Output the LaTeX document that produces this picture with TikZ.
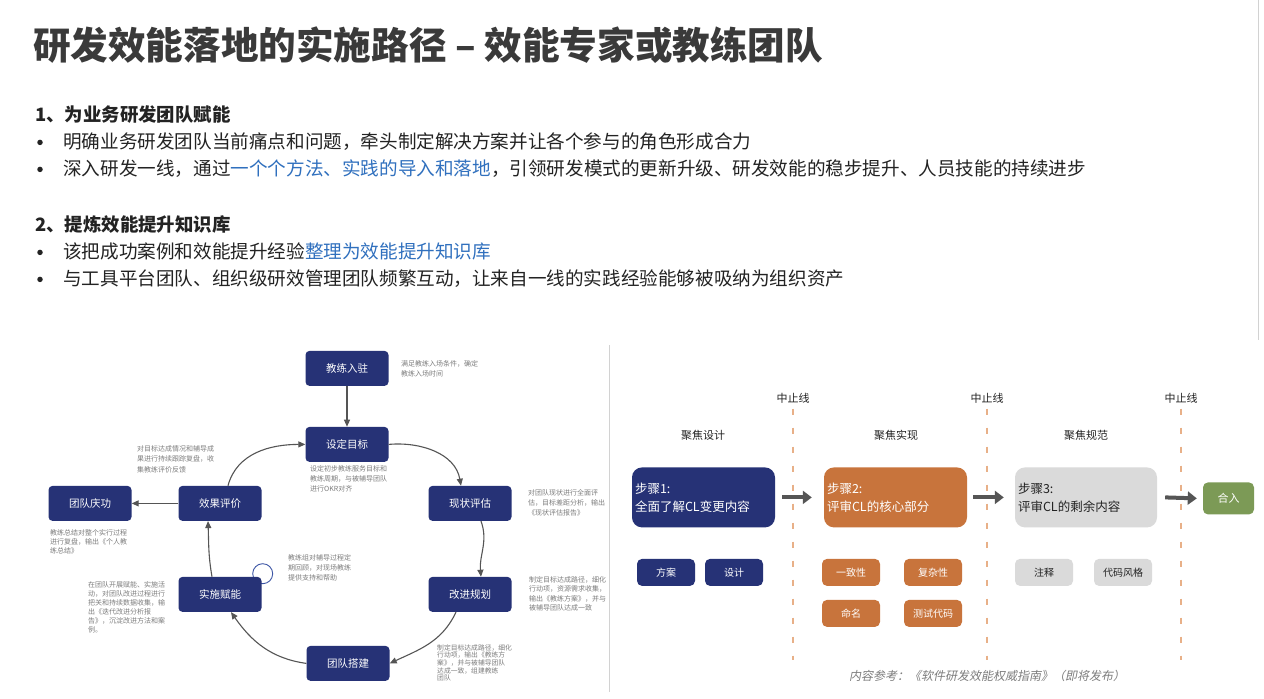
\documentclass[tikz,border=0pt]{standalone}
\usepackage{fontspec}
\setmainfont{Noto Sans CJK SC}
\newfontfamily\slantcjk{Noto Sans CJK SC}[FakeSlant=0.2]
\usetikzlibrary{arrows.meta}
\definecolor{navy}{RGB}{38,50,118}
\definecolor{orng}{RGB}{200,116,60}
\definecolor{lgray}{RGB}{218,218,218}
\definecolor{grn}{RGB}{124,154,86}
\definecolor{ttl}{RGB}{58,58,58}
\definecolor{txt}{RGB}{35,35,35}
\definecolor{hl}{RGB}{48,112,190}
\definecolor{anncol}{RGB}{125,125,125}
\definecolor{dashc}{RGB}{232,176,136}
\definecolor{arr}{RGB}{85,85,85}
\definecolor{loopc}{RGB}{60,85,165}
\definecolor{divc}{RGB}{210,210,210}
\pgfdeclarelayer{bg}
\pgfsetlayers{bg,main}
\begin{document}
\begin{tikzpicture}[x=1pt,y=-1pt,
  cyc/.style={fill=navy, rounded corners=4pt, minimum width=83pt, minimum height=35pt, text=white, inner sep=0pt, font=\fontsize{10.5}{12}\selectfont},
  ann/.style={anchor=north west, align=left, inner sep=0pt, text=anncol, font=\fontsize{7}{10}\selectfont},
  flow/.style={draw=arr, line width=1.1pt, -{Triangle[length=7pt,width=6pt]}},
  stepbox/.style={rounded corners=10pt, minimum width=143pt, minimum height=60pt, text width=137pt, align=left, inner xsep=3pt, font=\fontsize{12.5}{18}\selectfont},
  tag/.style={rounded corners=5pt, minimum width=58pt, minimum height=27pt, inner sep=0pt, font=\fontsize{10}{12}\selectfont},
  bigarrow/.style={draw=arr, line width=4pt, -{Triangle[length=9pt,width=13pt]}},
  stopline/.style={draw=dashc, line width=1.8pt, dash pattern=on 6pt off 13pt},
  lbl/.style={text=txt, inner sep=0pt, font=\fontsize{11}{13}\selectfont},
  bodytext/.style={anchor=west, inner sep=0pt, text=txt, font=\fontsize{18.6}{22}\selectfont},
  bullet/.style={circle, fill=txt, inner sep=0pt, minimum size=5.5pt},
  headtext/.style={anchor=west, inner sep=0pt, text=txt, font=\bfseries\fontsize{18.4}{21}\selectfont}
]
\begin{pgfonlayer}{bg}
\fill[white] (0,0) rectangle (1264,698);
\draw[divc, line width=0.8pt] (1258,0) -- (1258,340);
\end{pgfonlayer}

% ---------- title and text ----------
\node[anchor=west, inner sep=0pt, text=ttl, font=\bfseries\fontsize{37.6}{42}\selectfont] (title) at (33,45) {研发效能落地的实施路径 – 效能专家或教练团队};

\node[headtext] (h1) at (35,114) {1、为业务研发团队赋能};
\node[bullet] (b1d) at (40,142) {};
\node[bodytext] (b1) at (63,141) {明确业务研发团队当前痛点和问题，牵头制定解决方案并让各个参与的角色形成合力};
\node[bullet] (b2d) at (40,169) {};
\node[bodytext] (b2) at (63,168) {深入研发一线，通过\textcolor{hl}{一个个方法、实践的导入和落地}，引领研发模式的更新升级、研发效能的稳步提升、人员技能的持续进步};

\node[headtext] (h2) at (35,224) {2、提炼效能提升知识库};
\node[bullet] (b3d) at (40,252) {};
\node[bodytext] (b3) at (63,251) {该把成功案例和效能提升经验\textcolor{hl}{整理为效能提升知识库}};
\node[bullet] (b4d) at (40,279) {};
\node[bodytext] (b4) at (63,278) {与工具平台团队、组织级研效管理团队频繁互动，让来自一线的实践经验能够被吸纳为组织资产};

% ---------- left cycle diagram ----------
\node[cyc] (jl) at (347,368) {教练入驻};
\node[cyc] (sd) at (347,444) {设定目标};
\node[cyc] (xz) at (470,503) {现状评估};
\node[cyc] (gj) at (470,594) {改进规划};
\node[cyc] (td) at (348,663) {团队搭建};
\node[cyc] (ss) at (220,594) {实施赋能};
\node[cyc] (xg) at (220,503) {效果评价};
\node[cyc] (qg) at (90,503) {团队庆功};

\begin{pgfonlayer}{bg}
\draw[loopc, line width=0.9pt] ([xshift=1pt,yshift=3pt]ss.north east) circle[radius=10pt];
\end{pgfonlayer}

\draw[flow] (jl) -- (sd);
\draw[flow] (sd.east) to[out=5,in=100] ([xshift=-9pt]xz.north);
\draw[flow] ([xshift=11pt]xz.south) to[out=-70,in=95] ([xshift=11pt]gj.north);
\draw[flow] ([xshift=-14pt]gj.south) to[out=-115,in=25] (td.east);
\draw[flow] (td.west) to[out=172,in=-55] ([xshift=11pt]ss.south);
\draw[flow] ([xshift=-8pt]ss.north) to[out=100,in=-88] ([xshift=-12pt]xg.south);
\draw[flow] ([xshift=8pt]xg.north) to[out=75,in=180] (sd.west);
\draw[flow] (xg) -- (qg);

\node[ann] (a1) at (401,360) {满足教练入场条件，确定\\教练入场时间};
\node[ann] (a2) at (310,465) {设定初步教练服务目标和\\教练周期，与被辅导团队\\进行OKR对齐};
\node[ann] (a3) at (528,489) {对团队现状进行全面评\\估，目标差距分析，输出\\《现状评估报告》};
\node[ann, font=\fontsize{7}{9.4}\selectfont] (a4) at (529,576) {制定目标达成路径，细化\\行动项，资源需求收集，\\输出《教练方案》，并与\\被辅导团队达成一致};
\node[ann, font=\fontsize{6.8}{7.6}\selectfont] (a5) at (437,644) {制定目标达成路径，细化\\行动项，输出《教练方\\案》，并与被辅导团队\\达成一致，组建教练\\团队};
\node[ann] (a6) at (288,554) {教练组对辅导过程定\\期回顾，对现场教练\\提供支持和帮助};
\node[ann, font=\fontsize{7}{9}\selectfont] (a7) at (88,581) {在团队开展赋能、实施活\\动，对团队改进过程进行\\把关和持续数据收集，输\\出《迭代改进分析报\\告》，沉淀改进方法和案\\例。};
\node[ann, font=\fontsize{7}{10.5}\selectfont] (a8) at (137,445) {对目标达成情况和辅导成\\果进行持续跟踪复盘，收\\集教练评价反馈};
\node[ann, font=\fontsize{7}{9}\selectfont] (a9) at (50,529) {教练总结对整个实行过程\\进行复盘，输出《个人教\\练总结》};

% ---------- divider ----------
\coordinate (dv1) at (609,345);
\coordinate (dv2) at (609,692);
\draw[divc, line width=1pt] (dv1) -- (dv2);

% ---------- right diagram ----------
\node[lbl] (z1) at (793,398) {中止线};
\node[lbl] (z2) at (987,398) {中止线};
\node[lbl] (z3) at (1181,398) {中止线};
\coordinate (z1e) at (793,660);
\coordinate (z2e) at (987,660);
\coordinate (z3e) at (1181,660);
\draw[stopline] ([yshift=-5pt]z1.south) -- (z1e);
\draw[stopline] ([yshift=-5pt]z2.south) -- (z2e);
\draw[stopline] ([yshift=-5pt]z3.south) -- (z3e);

\node[lbl] (c1) at (703,435) {聚焦设计};
\node[lbl] (c2) at (896,435) {聚焦实现};
\node[lbl] (c3) at (1086,435) {聚焦规范};

\node[stepbox, fill=navy, text=white] (s1) at (703.5,497) {步骤1:\\全面了解CL变更内容};
\node[stepbox, fill=orng, text=white] (s2) at (895.5,497) {步骤2:\\评审CL的核心部分};
\node[stepbox, fill=lgray, text=txt, minimum width=142pt, text width=136pt] (s3) at (1086,497) {步骤3:\\评审CL的剩余内容};
\node[fill=grn, rounded corners=5pt, minimum width=51pt, minimum height=32pt, inner sep=0pt, text=white, font=\fontsize{11}{13}\selectfont] (hr) at (1228.5,498) {合入};

\draw[bigarrow] ([xshift=7pt]s1.east) -- ([xshift=-12pt]s2.west);
\draw[bigarrow] ([xshift=6pt]s2.east) -- ([xshift=-11pt]s3.west);
\draw[bigarrow] ([xshift=8pt]s3.east) -- ([xshift=-6pt]hr.west);

\node[tag, fill=navy, text=white] (t1) at (666,572) {方案};
\node[tag, fill=navy, text=white] (t2) at (734,572) {设计};
\node[tag, fill=orng, text=white] (t3) at (851,572) {一致性};
\node[tag, fill=orng, text=white] (t4) at (933,572) {复杂性};
\node[tag, fill=orng, text=white] (t5) at (851,613) {命名};
\node[tag, fill=orng, text=white] (t6) at (933,613) {测试代码};
\node[tag, fill=lgray, text=txt] (t7) at (1044,572) {注释};
\node[tag, fill=lgray, text=txt] (t8) at (1123,572) {代码风格};

\node[inner sep=0pt, text=anncol, font=\slantcjk\fontsize{12}{14}\selectfont] (ref) at (987,676) {内容参考：《软件研发效能权威指南》（即将发布）};
\end{tikzpicture}
\end{document}
